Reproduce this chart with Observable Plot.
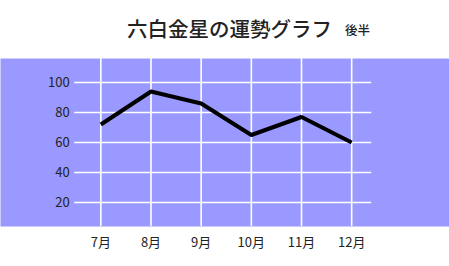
<!DOCTYPE html>
<html>
<head>
<meta charset="utf-8">
<script src="https://cdn.jsdelivr.net/npm/d3@7"></script>
<script src="https://cdn.jsdelivr.net/npm/@observablehq/plot@0.6"></script>
<style>
  html, body { margin: 0; padding: 0; background: #fff; }
  #title { position: relative; height: 58px; width: 449px; font-family: "Noto Sans CJK JP", sans-serif; color: #222; }
  #title .main { position: absolute; left: 127px; top: 18px; font-size: 20.5px; font-weight: 500; line-height: 1; letter-spacing: 0; }
  #title .sub { position: absolute; left: 345px; top: 24px; font-size: 12.5px; font-weight: 500; line-height: 1; }
  svg { display: block; }
</style>
</head>
<body>
<div id="title"><span class="main">六白金星の運勢グラフ</span><span class="sub">後半</span></div>
<div id="chart"></div>
<script>
const months = ["7月", "8月", "9月", "10月", "11月", "12月"];
const values = [72, 94, 86, 65, 77, 60];
const yTicks = [20, 40, 60, 80, 100];

const data = months.map((m, i) => ({i, month: m, value: values[i]}));
const gridLeft = -0.52, gridRight = 5.4;

const chart = Plot.plot({
  width: 449,
  height: 208,
  marginLeft: 0,
  marginRight: 0,
  marginTop: 0,
  marginBottom: 40,
  style: {fontFamily: "'Noto Sans CJK JP', sans-serif", fontSize: "13px", color: "#222", background: "transparent"},
  x: {type: "linear", domain: [-2, 6.95], axis: null},
  y: {type: "linear", domain: [4, 116], axis: null},
  marks: [
    Plot.frame({fill: "#9999ff", stroke: null}),
    Plot.ruleX(data, {x: "i", stroke: "white", strokeWidth: 1.6}),
    Plot.ruleY(yTicks, {y: d => d, x1: gridLeft, x2: gridRight, stroke: "white", strokeWidth: 1.6}),
    Plot.text(yTicks, {y: d => d, x: () => gridLeft, text: d => String(d), textAnchor: "end", dx: -5, fill: "#222"}),
    Plot.line(data, {x: "i", y: "value", stroke: "black", strokeWidth: 4, strokeLinejoin: "miter", strokeLinecap: "butt"}),
    Plot.text(data, {x: "i", text: "month", frameAnchor: "bottom", dy: 20, fill: "#222"})
  ]
});
document.getElementById("chart").appendChild(chart);
</script>
</body>
</html>
